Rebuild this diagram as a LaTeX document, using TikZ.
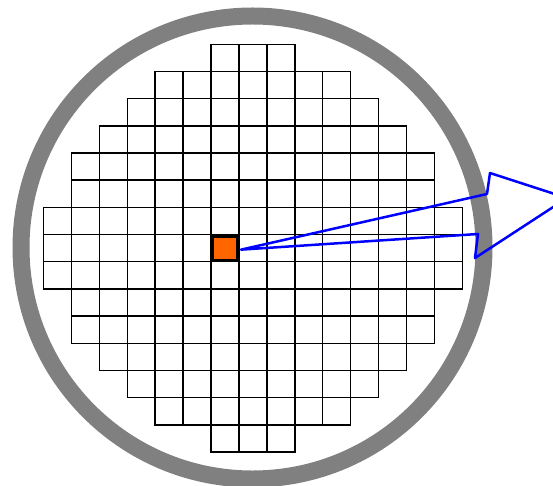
\documentclass[tikz,border=0pt]{standalone}
\usepackage{tikz}
\usetikzlibrary{calc}
\definecolor{cRing}{HTML}{808080}
\definecolor{cDie}{HTML}{FF6600}
\definecolor{cZoom}{HTML}{0000FF}
\tikzset{
  wafer/.style={draw=cRing, circle, line width=17pt, minimum size=463pt, inner sep=0pt},
  die/.style  ={draw=black, rectangle, line width=1.5pt, minimum width=27.92pt,
                minimum height=27.18pt, inner sep=0pt},
  hot/.style  ={draw=black, fill=cDie, rectangle, line width=3pt, minimum width=25pt,
                minimum height=24.3pt, inner sep=0pt},
  zoom/.style ={draw=cZoom, line width=2.5pt, line join=round},
}
\begin{document}
\begin{tikzpicture}[x=1pt,y=-1pt]
  \useasboundingbox (0,0) rectangle (553,486);
  \clip (0,0) rectangle (553,486);
  \node[wafer] (wafer) at (252.5,247.5) {};
  \foreach \r/\a/\b in {0/6/8,1/4/10,2/3/11,3/2/12,4/1/13,5/1/13,6/0/14,7/0/14,
                        8/0/14,9/1/13,10/1/13,11/2/12,12/3/11,13/4/10,14/6/8}
    \foreach \c in {\a,...,\b}
      \node[die] (d\r-\c) at ({43.5+27.92*(\c+0.5)},{44.3+27.18*(\r+0.5)}) {};
  \node[hot] (sel) at (d7-6) {};
  \coordinate (src) at ([xshift=2pt,yshift=-1.5pt]sel.east);
  \coordinate (n1) at (487,194);
  \coordinate (n2) at (490,173);
  \coordinate (tip) at (567,198);
  \coordinate (n3) at (475,258);
  \coordinate (n4) at (478,234);
  \draw[zoom] (src) -- (n1) -- (n2) -- (tip) -- (n3) -- (n4) -- cycle;
\end{tikzpicture}
\end{document}
